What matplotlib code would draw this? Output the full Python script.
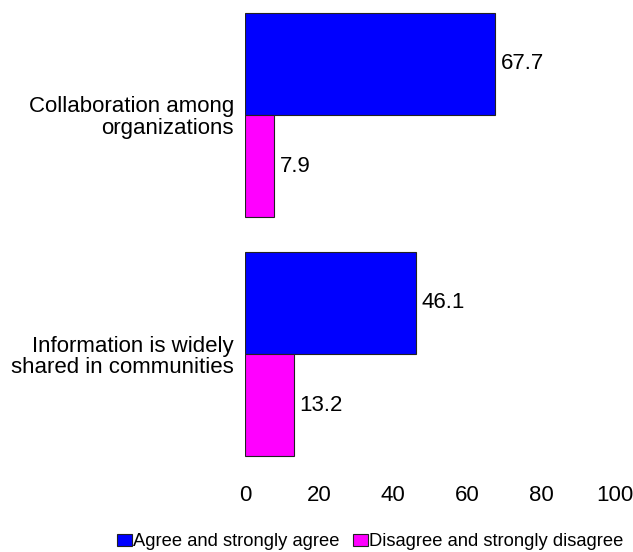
import numpy as np
import matplotlib
matplotlib.use("Agg")
import matplotlib.pyplot as plt
from matplotlib.patches import Patch

plt.rcParams["font.family"] = ["Liberation Sans", "DejaVu Sans"]

kategorier = ["Information is widely\nshared in communities", "Collaboration among\norganizations"]
enig = [46.1, 67.7]
uenig = [13.2, 7.9]
serier = ["Agree and strongly agree", "Disagree and strongly disagree"]
farger = ["#0000ff", "#ff00ff"]

fig = plt.figure(figsize=(6.33, 5.52), dpi=100)
ax = fig.add_axes([245 / 633, 1 - 461.6 / 552, 370 / 633, 454.2 / 552])

y = np.arange(len(kategorier))
h = 0.427
ax.barh(y + h / 2, enig, height=h, color=farger[0], edgecolor="#222222", linewidth=0.8)
ax.barh(y - h / 2, uenig, height=h, color=farger[1], edgecolor="#222222", linewidth=0.8)

for i in range(len(kategorier)):
    ax.annotate(f"{enig[i]:.1f}", (enig[i], y[i] + h / 2), xytext=(4, 0),
                textcoords="offset points", va="center", ha="left", fontsize=16)
    ax.annotate(f"{uenig[i]:.1f}", (uenig[i], y[i] - h / 2), xytext=(4, 0),
                textcoords="offset points", va="center", ha="left", fontsize=16)

ax.set_xlim(0, 100)
ax.set_ylim(-0.45, 1.45)
ax.set_xticks([0, 20, 40, 60, 80, 100])
ax.set_yticks(y)
ax.set_yticklabels(kategorier, fontsize=16, ha="right", linespacing=1.05)
ax.tick_params(axis="both", length=0, labelsize=16)
ax.tick_params(axis="x", pad=17)
ax.tick_params(axis="y", pad=8)
for s in ax.spines.values():
    s.set_visible(False)

handles = [Patch(facecolor=farger[k], edgecolor="#222222", linewidth=0.8, label=serier[k]) for k in range(2)]
fig.legend(handles=handles, loc="center", bbox_to_anchor=(370 / 633, 1 - 542 / 552), ncol=2,
           frameon=False, fontsize=13.2, handlelength=0.82, handleheight=0.6,
           handletextpad=0.05, columnspacing=0.75, borderpad=0, borderaxespad=0)

fig.savefig("out.png", dpi=100)
